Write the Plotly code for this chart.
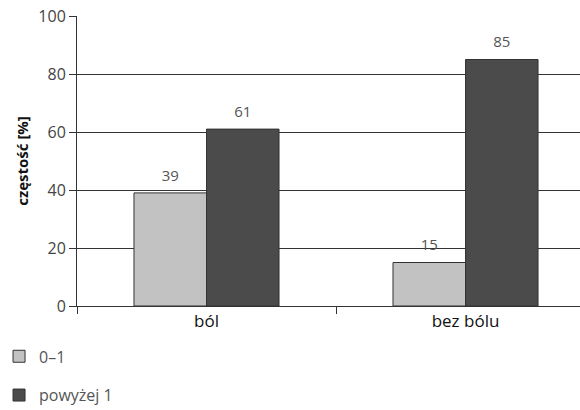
import plotly.graph_objects as go

categories = ["ból", "bez bólu"]
series_names = ["0–1", "powyżej 1"]
values_low = [39, 15]
values_high = [61, 85]
y_ticks = [0, 20, 40, 60, 80, 100]

FONT = "Open Sans"
LABEL_FONT = dict(family=FONT, size=15, color="#555555")
fig = go.Figure()
for name, vals, color, grp in [(series_names[0], values_low, "#c2c2c2", "a"),
                               (series_names[1], values_high, "#4b4b4b", "b")]:
    fig.add_trace(go.Bar(
        x=categories, y=vals, name=name, legendgroup=grp, offsetgroup=grp,
        marker=dict(color=color, line=dict(color="#333333", width=1)),
    ))
for vals, grp in [(values_low, "a"), (values_high, "b")]:
    fig.add_trace(go.Scatter(
        x=categories, y=vals, mode="markers+text", offsetgroup=grp,
        text=[str(v) for v in vals], textposition="top center",
        marker=dict(size=12, opacity=0), textfont=LABEL_FONT,
        showlegend=False, hoverinfo="skip", cliponaxis=False,
    ))

fig.update_layout(
    width=580, height=410,
    margin=dict(l=77, r=0, t=16, b=104, autoexpand=False),
    paper_bgcolor="white", plot_bgcolor="white",
    barmode="group", bargap=0.44, bargroupgap=0,
    scattermode="group", scattergap=0.44,
    font=dict(family=FONT, size=14, color="#444444"),
    showlegend=True,
    legend=dict(x=-0.155, xanchor="left", y=-0.115, yanchor="top",
                orientation="v", tracegroupgap=15, itemwidth=30,
                font=dict(family=FONT, size=16, color="#555555"),
                bgcolor="rgba(0,0,0,0)"),
    xaxis=dict(
        type="category", range=[-0.5, 1.442],
        tickson="boundaries", ticks="outside", ticklen=7, tickcolor="#333333",
        showline=True, linecolor="#333333", linewidth=1,
        tickfont=dict(family=FONT, size=17, color="#111111"),
        showgrid=False,
    ),
    yaxis=dict(
        range=[0, 100], tickvals=y_ticks, ticks="outside", ticklen=7,
        tickcolor="#333333", showline=True, linecolor="#333333", linewidth=1,
        showgrid=True, gridcolor="#333333", gridwidth=1,
        tickfont=dict(family=FONT, size=16, color="#444444"),
        title=dict(text="<b>częstość [%]</b>", standoff=6,
                   font=dict(family=FONT, size=15, color="#111111")),
        zeroline=False,
    ),
)

fig.write_html("out.html")
